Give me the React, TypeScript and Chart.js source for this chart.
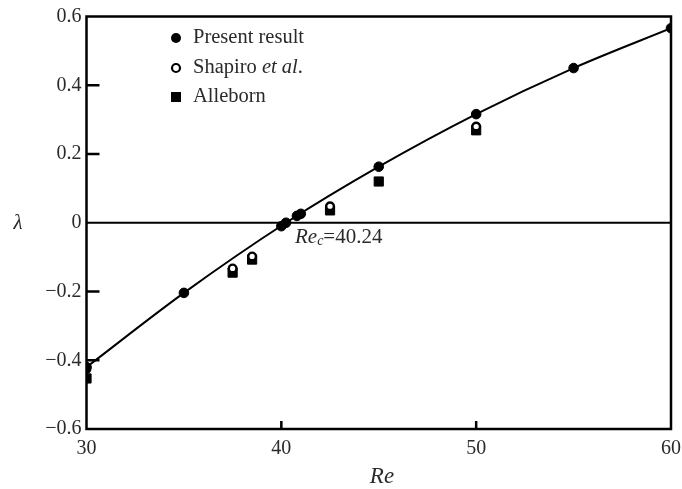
import React, { useEffect, useRef } from 'react';
import { Chart, registerables } from 'chart.js';

Chart.register(...registerables);

// ---- data ----
const presentRe = [30, 35, 40, 40.24, 40.8, 41, 45, 50, 55, 60];
const presentLambda = [-0.42, -0.204, -0.01, 0, 0.02, 0.026, 0.163, 0.316, 0.45, 0.566];
const shapiroRe = [30, 37.5, 38.5, 42.5, 50];
const shapiroLambda = [-0.425, -0.133, -0.098, 0.048, 0.28];
const alleRe = [30, 37.5, 38.5, 42.5, 45, 50];
const alleLambda = [-0.453, -0.145, -0.107, 0.036, 0.12, 0.269];
const curveRe = [30, 35, 40.24, 45, 50, 55, 60];
const curveLambda = [-0.42, -0.204, 0, 0.163, 0.316, 0.45, 0.566];
const innerYTicks = [-0.4, -0.2, 0.2, 0.4];
const innerXTicks = [40, 50];
const legendLabels = ['Present result', 'Shapiro', 'Alleborn'];
const criticalRe = 40.24;
const criticalLabel = '=40.24';

const SERIF = "'Liberation Serif', 'Times New Roman', serif";
const TXT = '#2a2a2a';

const pts = (xs: number[], ys: number[]) => xs.map((x, i) => ({ x, y: ys[i] }));

const decor = {
  id: 'decor',
  beforeDatasetsDraw(chart: any) {
    const { ctx, chartArea: a, scales } = chart;
    const y0 = scales.y.getPixelForValue(0);
    ctx.save();
    ctx.strokeStyle = '#000';
    ctx.lineWidth = 2;
    ctx.beginPath();
    ctx.moveTo(a.left, y0);
    ctx.lineTo(a.right, y0);
    ctx.stroke();
    ctx.restore();
  },
  afterDatasetsDraw(chart: any) {
    const { ctx, chartArea: a, scales } = chart;
    ctx.save();
    ctx.strokeStyle = '#000';
    ctx.lineWidth = 2.5;
    ctx.strokeRect(a.left, a.top, a.right - a.left, a.bottom - a.top);
    // inward ticks
    ctx.beginPath();
    innerYTicks.forEach((v) => {
      const y = scales.y.getPixelForValue(v);
      ctx.moveTo(a.left, y);
      ctx.lineTo(a.left + 13, y);
    });
    innerXTicks.forEach((v) => {
      const x = scales.x.getPixelForValue(v);
      ctx.moveTo(x, a.bottom);
      ctx.lineTo(x, a.bottom - 8);
    });
    ctx.stroke();

    // legend
    const lx = 176;
    const tx = 193;
    const rows = [38, 68, 97];
    ctx.fillStyle = '#000';
    ctx.beginPath();
    ctx.arc(lx, rows[0], 5, 0, Math.PI * 2);
    ctx.fill();
    ctx.beginPath();
    ctx.arc(lx, rows[1], 4, 0, Math.PI * 2);
    ctx.fillStyle = '#fff';
    ctx.fill();
    ctx.lineWidth = 2.2;
    ctx.stroke();
    ctx.fillStyle = '#000';
    ctx.fillRect(lx - 5, rows[2] - 5, 10, 10);

    ctx.textBaseline = 'middle';
    ctx.textAlign = 'left';
    ctx.fillStyle = TXT;
    const lf = 20.5;
    ctx.font = `${lf}px ${SERIF}`;
    ctx.fillText(legendLabels[0], tx, rows[0]);
    let x = tx;
    ctx.fillText(legendLabels[1] + ' ', x, rows[1]);
    x += ctx.measureText(legendLabels[1] + ' ').width;
    ctx.font = `italic ${lf}px ${SERIF}`;
    ctx.fillText('et al', x, rows[1]);
    x += ctx.measureText('et al').width;
    ctx.font = `${lf}px ${SERIF}`;
    ctx.fillText('.', x, rows[1]);
    ctx.fillText(legendLabels[2], tx, rows[2]);

    // Re_c annotation
    const cx = scales.x.getPixelForValue(criticalRe) + 9;
    const cy = scales.y.getPixelForValue(0) + 15;
    x = cx;
    ctx.font = `italic 21px ${SERIF}`;
    ctx.fillText('Re', x, cy);
    x += ctx.measureText('Re').width;
    ctx.font = `italic 14px ${SERIF}`;
    ctx.fillText('c', x, cy + 4);
    x += ctx.measureText('c').width;
    ctx.font = `21px ${SERIF}`;
    ctx.fillText(criticalLabel, x, cy);

    // axis titles
    ctx.textAlign = 'center';
    ctx.font = `italic 23px ${SERIF}`;
    ctx.fillText('Re', 382, 477);
    ctx.font = `italic 21px ${SERIF}`;
    ctx.fillText('λ', 18, (a.top + a.bottom) / 2 + 1);
    ctx.restore();
  },
};

export default function App() {
  const ref = useRef<HTMLCanvasElement | null>(null);
  useEffect(() => {
    document.body.style.margin = '0';
    if (!ref.current) return;
    const chart = new Chart(ref.current, {
      type: 'scatter',
      data: {
        datasets: [
          {
            label: 'Present result',
            data: pts(presentRe, presentLambda),
            pointStyle: 'circle',
            pointRadius: 4.8,
            pointBackgroundColor: '#000',
            pointBorderColor: '#000',
            pointBorderWidth: 1,
            showLine: false,
            order: 1,
            clip: 0,
          },
          {
            label: 'Shapiro et al.',
            data: pts(shapiroRe, shapiroLambda),
            pointStyle: 'circle',
            pointRadius: 3.8,
            pointBackgroundColor: '#fff',
            pointBorderColor: '#000',
            pointBorderWidth: 2.4,
            showLine: false,
            order: 2,
            clip: 0,
          },
          {
            label: 'Alleborn',
            data: pts(alleRe, alleLambda),
            pointStyle: 'rect',
            pointRadius: 6.5,
            pointBackgroundColor: '#000',
            pointBorderColor: '#000',
            pointBorderWidth: 1,
            showLine: false,
            order: 3,
            clip: 0,
          },
          {
            label: 'fit',
            data: pts(curveRe, curveLambda),
            showLine: true,
            borderColor: '#000',
            borderWidth: 2,
            pointRadius: 0,
            cubicInterpolationMode: 'monotone',
            order: 4,
            clip: 0,
          },
        ],
      },
      options: {
        animation: false,
        responsive: false,
        events: [],
        layout: { padding: { top: 16.5, right: 11, left: 0, bottom: 0 } },
        plugins: { legend: { display: false }, tooltip: { enabled: false } },
        scales: {
          x: {
            type: 'linear',
            min: 30,
            max: 60,
            grid: { display: false, drawTicks: false },
            border: { display: false },
            ticks: {
              stepSize: 10,
              padding: 8,
              color: TXT,
              font: { family: SERIF, size: 20 },
            },
            afterFit: (s: any) => {
              s.height = 60;
              s.paddingLeft = 0;
              s.paddingRight = 0;
            },
          },
          y: {
            type: 'linear',
            min: -0.6,
            max: 0.6,
            grid: { display: false, drawTicks: false },
            border: { display: false },
            ticks: {
              stepSize: 0.2,
              padding: 5,
              color: TXT,
              font: { family: SERIF, size: 20 },
              callback: (v: any) => {
                const r = Math.round(Number(v) * 10) / 10;
                if (r === 0) return '0';
                return (r < 0 ? '\u2212' : '') + Math.abs(r).toFixed(1);
              },
            },
            afterFit: (s: any) => {
              s.width = 86.5;
              s.paddingTop = 0;
              s.paddingBottom = 0;
            },
          },
        },
      },
      plugins: [decor],
    });
    return () => chart.destroy();
  }, []);
  return <canvas ref={ref} width={682} height={489} style={{ display: 'block' }} />;
}
